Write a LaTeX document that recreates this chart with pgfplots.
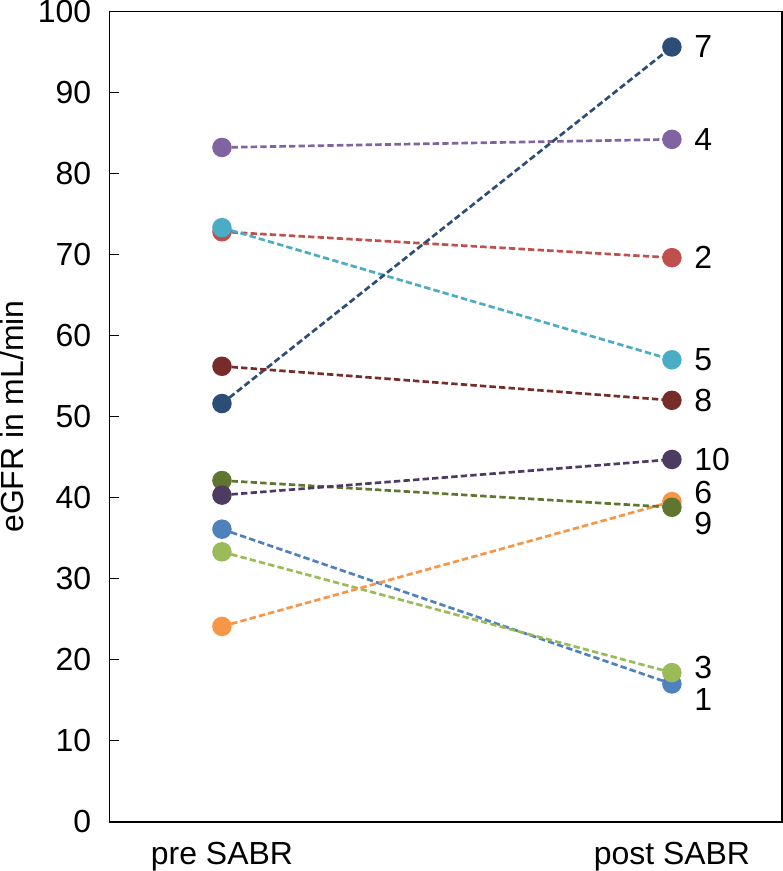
\documentclass[border=0pt]{standalone}
\usepackage{fontspec}
\setmainfont{Liberation Sans}
\usepackage{pgfplots}
\pgfplotsset{compat=1.18}
\definecolor{c1}{HTML}{4F81BD}
\definecolor{c2}{HTML}{C0504D}
\definecolor{c3}{HTML}{9BBB59}
\definecolor{c4}{HTML}{8064A2}
\definecolor{c5}{HTML}{4BACC6}
\definecolor{c6}{HTML}{F79646}
\definecolor{c7}{HTML}{2C4D75}
\definecolor{c8}{HTML}{772C2A}
\definecolor{c9}{HTML}{5F7530}
\definecolor{c10}{HTML}{4D3B62}
\begin{document}
\begin{tikzpicture}[x=1pt,y=1pt]
\begin{axis}[
  scale only axis,
  width=337pt, height=406pt,
  xmin=-0.25, xmax=1.245,
  ymin=0, ymax=100,
  xtick={0,1},
  xticklabels={pre SABR, post SABR},
  x tick style={draw=none},
  xticklabel style={inner sep=0pt, yshift=-10pt},
  ytick={0,10,...,100},
  yticklabel style={inner sep=0pt, xshift=-9pt},
  ytick pos=left,
  tick align=inside,
  major tick length=5pt,
  ylabel={eGFR in mL/min},
  ylabel style={inner sep=0pt, yshift=7pt},
  /pgf/number format/assume math mode=true,
  font=\fontsize{16}{19}\selectfont,
  axis line style={line width=0.8pt},
  every tick/.style={black, line width=0.8pt},
  every axis plot/.append style={dash pattern=on 3.2pt off 1.6pt, line width=1.35pt, mark=*, mark size=4.2pt, mark options={solid}},
  clip=false,
]
\addplot[c1] coordinates {(0,36.1) (1,17.0)};
\addplot[c2] coordinates {(0,72.8) (1,69.6)};
\addplot[c3] coordinates {(0,33.3) (1,18.4)};
\addplot[c4] coordinates {(0,83.2) (1,84.2)};
\addplot[c5] coordinates {(0,73.3) (1,57.0)};
\addplot[c6] coordinates {(0,24.1) (1,39.5)};
\addplot[c7] coordinates {(0,51.6) (1,95.6)};
\addplot[c8] coordinates {(0,56.2) (1,52.0)};
\addplot[c9] coordinates {(0,42.1) (1,38.8)};
\addplot[c10] coordinates {(0,40.3) (1,44.7)};
\begin{scope}[every node/.style={anchor=west, inner sep=0pt, xshift=11pt}]
\node at (axis cs:1,95.6) {7};
\node at (axis cs:1,84.2) {4};
\node at (axis cs:1,69.6) {2};
\node at (axis cs:1,57.0) {5};
\node at (axis cs:1,52.0) {8};
\node at (axis cs:1,44.7) {10};
\node at (axis cs:1,40.6) {6};
\node at (axis cs:1,36.8) {9};
\node at (axis cs:1,19.0) {3};
\node at (axis cs:1,15.1) {1};
\end{scope}
\end{axis}
\end{tikzpicture}
\end{document}
